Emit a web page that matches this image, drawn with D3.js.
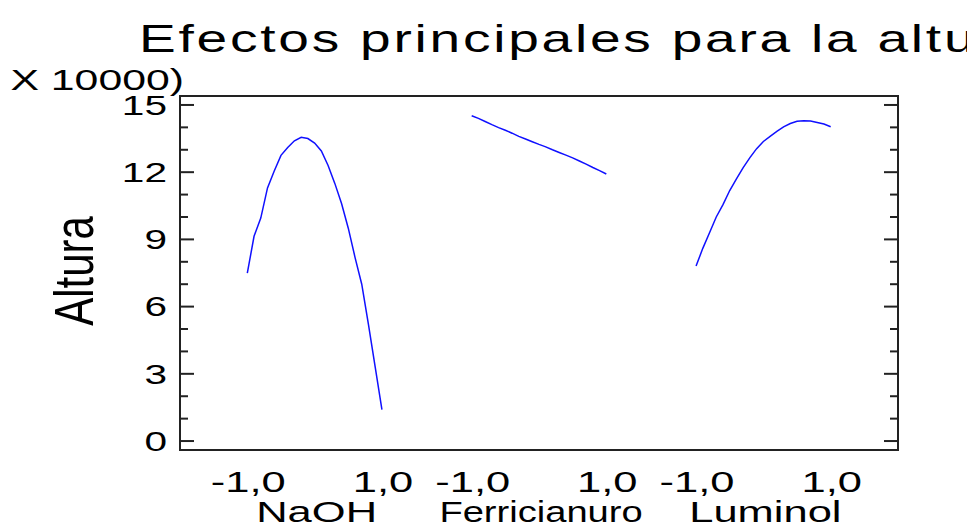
<!DOCTYPE html>
<html>
<head>
<meta charset="utf-8">
<script src="https://cdn.jsdelivr.net/npm/d3@7"></script>
<style>
  html, body { margin: 0; padding: 0; background: #fff; }
  svg { display: block; }
  text { font-family: "Liberation Sans", Arial, sans-serif; fill: #000; }
</style>
</head>
<body>
<script>
// Factors and the coded levels of each one
const factors = ["NaOH", "Ferricianuro", "Luminol"];
const levels = [-1, -0.9, -0.8, -0.7, -0.6, -0.5, -0.4, -0.3, -0.2, -0.1, 0,
                0.1, 0.2, 0.3, 0.4, 0.5, 0.6, 0.7, 0.8, 0.9, 1];

// Predicted height (x 10000) along each factor's range
const alturaNaOH = [7.49, 9.14, 9.95, 11.3, 12.05, 12.75, 13.1, 13.4, 13.56, 13.5, 13.3,
                    12.95, 12.3, 11.5, 10.6, 9.5, 8.2, 7.0, 5.2, 3.3, 1.4];
const alturaFerricianuro = [14.52, 14.4, 14.26, 14.12, 13.99, 13.87, 13.74, 13.6, 13.48, 13.36, 13.24,
                            13.13, 13.0, 12.88, 12.76, 12.64, 12.5, 12.36, 12.21, 12.07, 11.92];
const alturaLuminol = [7.81, 8.6, 9.3, 10.0, 10.55, 11.18, 11.7, 12.2, 12.65, 13.05, 13.37,
                       13.6, 13.82, 14.02, 14.17, 14.27, 14.3, 14.28, 14.22, 14.15, 14.03];

const yMajorTicks = [0, 3, 6, 9, 12, 15];
const yMinorTicks = [1, 2, 4, 5, 7, 8, 10, 11, 13, 14];
const xTickValues = [-1, 1];
const xTickLabels = ["-1,0", "1,0"];

const title = "Efectos principales para la altura";
const yTitle = "Altura";
const yUnits = "X 10000)";

const W = 967, H = 526;
const SX = 1.45;          // horizontal stretch of all lettering

const plotL = 180, plotR = 898, plotT = 96, plotB = 450;
const factorOffset = 10 / 3;   // spacing between factor panels in coded units

const x = d3.scaleLinear().domain([-2, 2 * factorOffset + 2]).range([plotL, plotR]);
const y = d3.scaleLinear().domain([-0.4, 15.4]).range([plotB, plotT]);

const series = [alturaNaOH, alturaFerricianuro, alturaLuminol];

const svg = d3.select("body").append("svg")
  .attr("width", W).attr("height", H);

function label(parent, tx, ty, str, size, anchor, sx) {
  return parent.append("text")
    .attr("transform", `translate(${tx},${ty}) scale(${sx || SX},1)`)
    .attr("text-anchor", anchor)
    .style("font-size", size + "px")
    .text(str);
}

// Title
label(svg, 139, 52, title, 38, "start").style("letter-spacing", "1.9px");

// Units note over the y axis
label(svg, 184, 90, yUnits, 29.5, "end");

// Y-axis title (rotated)
svg.append("text")
  .attr("transform", `translate(93,271) scale(1.33,1) rotate(-90)`)
  .attr("text-anchor", "middle")
  .style("font-size", "42px")
  .text(yTitle);

// Plot frame
svg.append("rect")
  .attr("x", plotL).attr("y", plotT)
  .attr("width", plotR - plotL).attr("height", plotB - plotT)
  .attr("fill", "none").attr("stroke", "#222").attr("stroke-width", 2);

// Y ticks on both sides, pointing inward
const tickG = svg.append("g").attr("stroke", "#222").attr("stroke-width", 2);
yMajorTicks.forEach(v => {
  tickG.append("line").attr("x1", plotL).attr("x2", plotL + 14).attr("y1", y(v)).attr("y2", y(v));
  tickG.append("line").attr("x1", plotR).attr("x2", plotR - 14).attr("y1", y(v)).attr("y2", y(v));
});
yMinorTicks.forEach(v => {
  tickG.append("line").attr("x1", plotL).attr("x2", plotL + 8).attr("y1", y(v)).attr("y2", y(v));
  tickG.append("line").attr("x1", plotR).attr("x2", plotR - 8).attr("y1", y(v)).attr("y2", y(v));
});

// Y tick labels
yMajorTicks.forEach(v => {
  label(svg, 167, y(v), String(v), 28, "end").attr("dy", "0.35em");
});

// X tick labels and factor names; long names are set a little tighter
factors.forEach((f, i) => {
  const off = i * factorOffset;
  xTickValues.forEach((v, j) => {
    label(svg, x(off + v) + 1, 492, xTickLabels[j], 30, "middle");
  });
  const sx = f.length > 8 ? 1.27 : SX;
  label(svg, x(off) + 2, 522, f, 30, "middle", sx);
});

// Main-effect curves
const line = d3.line()
  .x(d => x(d[0]))
  .y(d => y(d[1]));

series.forEach((vals, i) => {
  const pts = levels.map((lv, k) => [i * factorOffset + lv, vals[k]]);
  svg.append("path")
    .datum(pts)
    .attr("d", line)
    .attr("fill", "none")
    .attr("stroke", "#1010ff")
    .attr("stroke-width", 1.5);
});
</script>
</body>
</html>
